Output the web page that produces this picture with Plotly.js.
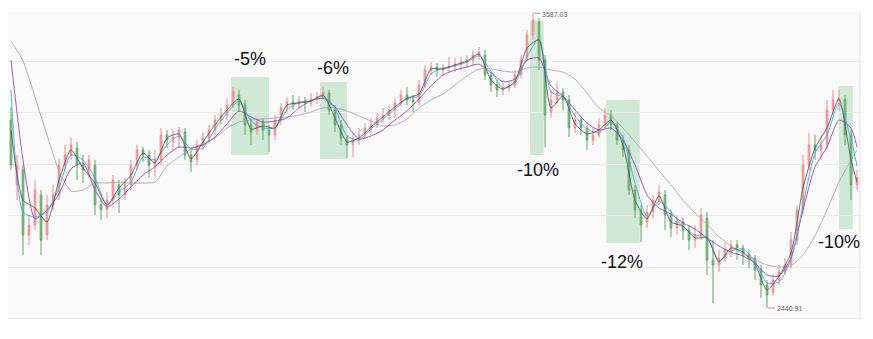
<!DOCTYPE html>
<html><head><meta charset="utf-8">
<script src="https://cdn.plot.ly/plotly-3.0.1.min.js"></script>
<style>html,body{margin:0;padding:0;background:#fff}#chart{width:873px;height:339px}</style>
</head><body><div id="chart"></div>
<script>
const open = [3171,2919,2977,2724,2763,2880,2724,2841,2880,2996,
3035,3062,2996,2977,2996,2841,2822,2860,2919,2880,
2919,2996,3055,3035,2996,3016,3113,3093,3105,3124,
3035,3016,3074,3101,3132,3171,3190,3229,3268,3229,
3152,3132,3163,3132,3113,3171,3218,3241,3233,3245,
3237,3253,3260,3276,3210,3152,3101,3074,3093,3113,
3140,3152,3179,3190,3210,3237,3268,3249,3241,3307,
3365,3377,3365,3373,3381,3388,3396,3404,3423,3423,
3346,3307,3288,3295,3303,3346,3404,3501,3552,3404,
3202,3249,3280,3249,3140,3171,3140,3093,3113,3152,
3190,3152,3093,3055,2899,2822,2775,2814,2860,2880,
2802,2752,2775,2744,2705,2724,2790,2627,2608,2635,
2666,2686,2674,2647,2635,2589,2530,2503,2550,2581,
2608,2705,2822,2996,3074,3055,3074,3210,3249,3249,
3113,2919];
const close = [2996,2996,2724,2763,2899,2705,2841,2880,2996,3035,
3074,2996,2977,3016,2841,2822,2860,2938,2880,2919,
2996,3055,3035,2996,3016,3113,3093,3105,3132,3035,
3008,3074,3101,3132,3171,3190,3229,3280,3229,3152,
3124,3163,3132,3113,3171,3218,3241,3233,3245,3237,
3253,3260,3280,3210,3152,3101,3074,3093,3113,3140,
3152,3179,3190,3210,3237,3268,3249,3241,3307,3365,
3377,3365,3373,3381,3388,3396,3404,3423,3435,3346,
3307,3288,3295,3303,3346,3404,3501,3559,3404,3190,
3249,3280,3249,3140,3171,3140,3093,3113,3152,3190,
3152,3093,3055,2899,2822,2763,2814,2860,2891,2802,
2752,2775,2744,2705,2724,2802,2627,2608,2635,2666,
2686,2674,2647,2635,2589,2530,2492,2550,2581,2608,
2705,2822,2996,3074,3055,3074,3210,3249,3256,3113,
2919,2946];
const high = [3222,3035,2996,2802,2938,2899,2880,2919,3023,3074,
3101,3086,3035,3035,3016,2868,2891,2957,2938,2946,
3016,3074,3066,3055,3055,3140,3132,3132,3144,3140,
3055,3093,3124,3152,3190,3218,3256,3299,3288,3249,
3179,3179,3179,3152,3190,3237,3260,3268,3264,3260,
3276,3280,3299,3288,3229,3171,3113,3121,3140,3159,
3179,3198,3218,3229,3256,3288,3299,3268,3326,3385,
3396,3392,3388,3416,3412,3416,3423,3443,3454,3443,
3357,3326,3315,3319,3365,3423,3521,3587.03,3567,3423,
3288,3315,3295,3268,3202,3183,3152,3140,3179,3218,
3210,3163,3113,3074,2919,2841,2841,2880,2919,2899,
2822,2802,2790,2763,2763,2829,2814,2705,2666,2693,
2705,2705,2686,2666,2647,2608,2550,2569,2608,2635,
2736,2841,3035,3121,3113,3113,3249,3288,3288,3268,
3132,2977];
const low = [2977,2860,2647,2686,2744,2647,2705,2822,2860,2969,
3016,2938,2926,2946,2802,2783,2790,2841,2810,2860,
2899,2977,3008,2946,2950,2996,3062,3055,3062,3016,
2969,2996,3055,3082,3113,3152,3171,3218,3202,3113,
3074,3113,3093,3047,3093,3152,3202,3210,3214,3202,
3222,3233,3249,3190,3124,3074,3023,3027,3074,3101,
3121,3140,3163,3171,3179,3225,3229,3202,3229,3295,
3346,3338,3346,3357,3357,3365,3373,3385,3404,3326,
3280,3260,3268,3280,3295,3334,3396,3482,3365,3066,
3179,3233,3210,3105,3121,3113,3055,3074,3101,3140,
3132,3074,3027,2880,2790,2697,2752,2790,2841,2744,
2717,2724,2705,2666,2674,2705,2569,2460,2581,2620,
2639,2627,2608,2596,2550,2480,2440.91,2492,2530,2569,
2596,2686,2802,2977,3016,3016,3055,3190,3210,3074,
2860,2899];

// moving averages, sampled every second candle (plus the last one)
const ma5 = [3132,2860,2829,2775,2938,3055,2985,2926,2841,2907,
2957,3043,3004,3101,3117,3020,3086,3152,3210,3253,
3136,3148,3140,3229,3237,3245,3268,3179,3086,3101,
3144,3183,3222,3256,3272,3369,3369,3385,3400,3427,
3326,3291,3322,3451,3482,3218,3264,3156,3117,3132,
3171,3074,2860,2787,2876,2775,2759,2713,2713,2620,
2674,2658,2612,2511,2565,2655,2907,3062,3140,3253,
3016,2930];
const ma10 = [3288,2814,2794,2814,2907,3035,3016,2946,2841,2891,
2930,3027,3016,3074,3109,3058,3062,3136,3198,3245,
3167,3140,3140,3210,3241,3245,3264,3214,3109,3093,
3136,3175,3214,3253,3264,3350,3373,3381,3396,3420,
3361,3295,3315,3416,3489,3280,3260,3187,3136,3121,
3163,3101,2926,2798,2856,2814,2756,2724,2717,2623,
2662,2670,2623,2538,2542,2631,2841,3043,3113,3237,
3097,2992];
const ma20 = [3404,3016,2787,2822,2884,2981,3004,2899,2833,2864,
2911,2957,2989,3035,3066,3062,3074,3105,3156,3206,
3183,3163,3167,3179,3218,3245,3256,3222,3152,3097,
3109,3132,3171,3206,3253,3303,3346,3365,3377,3388,
3354,3319,3330,3404,3412,3303,3264,3210,3159,3132,
3140,3093,2996,2880,2829,2806,2771,2748,2713,2682,
2658,2643,2616,2569,2565,2635,2822,2989,3066,3171,
3140,3066];
const ma60 = [3478,3400,3260,3113,2973,2895,2899,2926,2926,2930,
2926,2926,2930,2992,3027,3058,3078,3101,3140,3163,
3171,3175,3179,3183,3190,3202,3218,3218,3206,3187,
3167,3148,3152,3175,3218,3249,3272,3307,3342,3369,
3369,3361,3357,3373,3377,3365,3357,3330,3276,3218,
3187,3140,3086,3031,2973,2919,2860,2810,2767,2717,
2682,2651,2627,2608,2600,2604,2647,2721,2822,2930,
3016,3055];

// highlighted drops: candle index span, price span, label
const zoneX0 = [36.7, 51.5, 86.5, 99.2, 138.0];
const zoneX1 = [43.0, 56.0, 88.8, 104.8, 140.3];
const zoneLow = [3035, 3020, 3035, 2693, 2748];
const zoneHigh = [3338, 3319, 3555, 3249, 3303];
const zoneLabels = ['-5%', '-6%', '-10%', '-12%', '-10%'];
const labelX = [39.8, 53.7, 87.8, 101.8, 138.0];
const labelY = [3408, 3373, 2977, 2620, 2697];

const maxIdx = 87, maxVal = 3587.03;
const minIdx = 126, minVal = 2440.91;

const idx = close.map((_, i) => i);
const maIdx = [];
for (let k = 0; k < ma5.length - 1; k++) maIdx.push(2 * k);
maIdx.push(close.length - 1);

const traces = [{
  type: 'candlestick', x: idx, open: open, high: high, low: low, close: close,
  increasing: {line: {color: '#ec8c8c', width: 1}, fillcolor: '#f4abab'},
  decreasing: {line: {color: '#64a467', width: 1}, fillcolor: '#8cc08e'},
  whiskerwidth: 0, hoverinfo: 'skip'
}];
const maDefs = [[ma60, '#a8a8a8', 0.9], [ma20, '#9a48aa', 0.9], [ma10, '#44a8de', 0.9], [ma5, '#465046', 0.8]];
maDefs.forEach(([arr, col, w]) => traces.push({
  type: 'scatter', mode: 'lines', x: maIdx, y: arr,
  line: {color: col, width: w, shape: 'spline', smoothing: 0.6}, hoverinfo: 'skip'
}));

const shapes = zoneX0.map((x0, i) => ({
  type: 'rect', xref: 'x', yref: 'y', x0: x0, x1: zoneX1[i], y0: zoneLow[i], y1: zoneHigh[i],
  fillcolor: 'rgba(120,195,140,0.32)', line: {width: 0}, layer: 'below'
}));
shapes.push({type: 'line', xref: 'paper', yref: 'paper', x0: 1, x1: 1, y0: 0, y1: 1,
  line: {color: '#e2e2e2', width: 1}});

const annotations = zoneLabels.map((t, i) => ({
  x: labelX[i], y: labelY[i], xref: 'x', yref: 'y', text: t, showarrow: false,
  font: {family: 'Liberation Sans, Arial, sans-serif', size: 18, color: '#111'}
}));
annotations.push({x: maxIdx, y: maxVal, xref: 'x', yref: 'y', text: maxVal.toFixed(2),
  showarrow: true, ax: 21, ay: 2, arrowhead: 0, arrowwidth: 0.7, arrowcolor: '#777', standoff: 1,
  font: {family: 'Liberation Sans, Arial, sans-serif', size: 7, color: '#666'}});
annotations.push({x: minIdx, y: minVal, xref: 'x', yref: 'y', text: minVal.toFixed(2),
  showarrow: true, ax: 22, ay: 0, arrowhead: 0, arrowwidth: 0.7, arrowcolor: '#777', standoff: 1,
  font: {family: 'Liberation Sans, Arial, sans-serif', size: 7, color: '#666'}});

const layout = {
  width: 873, height: 339,
  margin: {l: 8, r: 13, t: 12, b: 19},
  paper_bgcolor: '#ffffff', plot_bgcolor: '#fafafa',
  showlegend: false, hovermode: false, boxgap: 0.6,
  xaxis: {range: [-0.5, close.length - 0.5], showgrid: false, zeroline: false,
    showticklabels: false, ticks: '', rangeslider: {visible: false}, fixedrange: true},
  yaxis: {range: [2394.4, 3590.4], tick0: 2600, dtick: 200, showgrid: true, gridcolor: '#ececec',
    gridwidth: 1, zeroline: false, showticklabels: false, ticks: '', fixedrange: true},
  shapes: shapes, annotations: annotations
};
Plotly.newPlot('chart', traces, layout, {displayModeBar: false, staticPlot: true});
</script></body></html>
